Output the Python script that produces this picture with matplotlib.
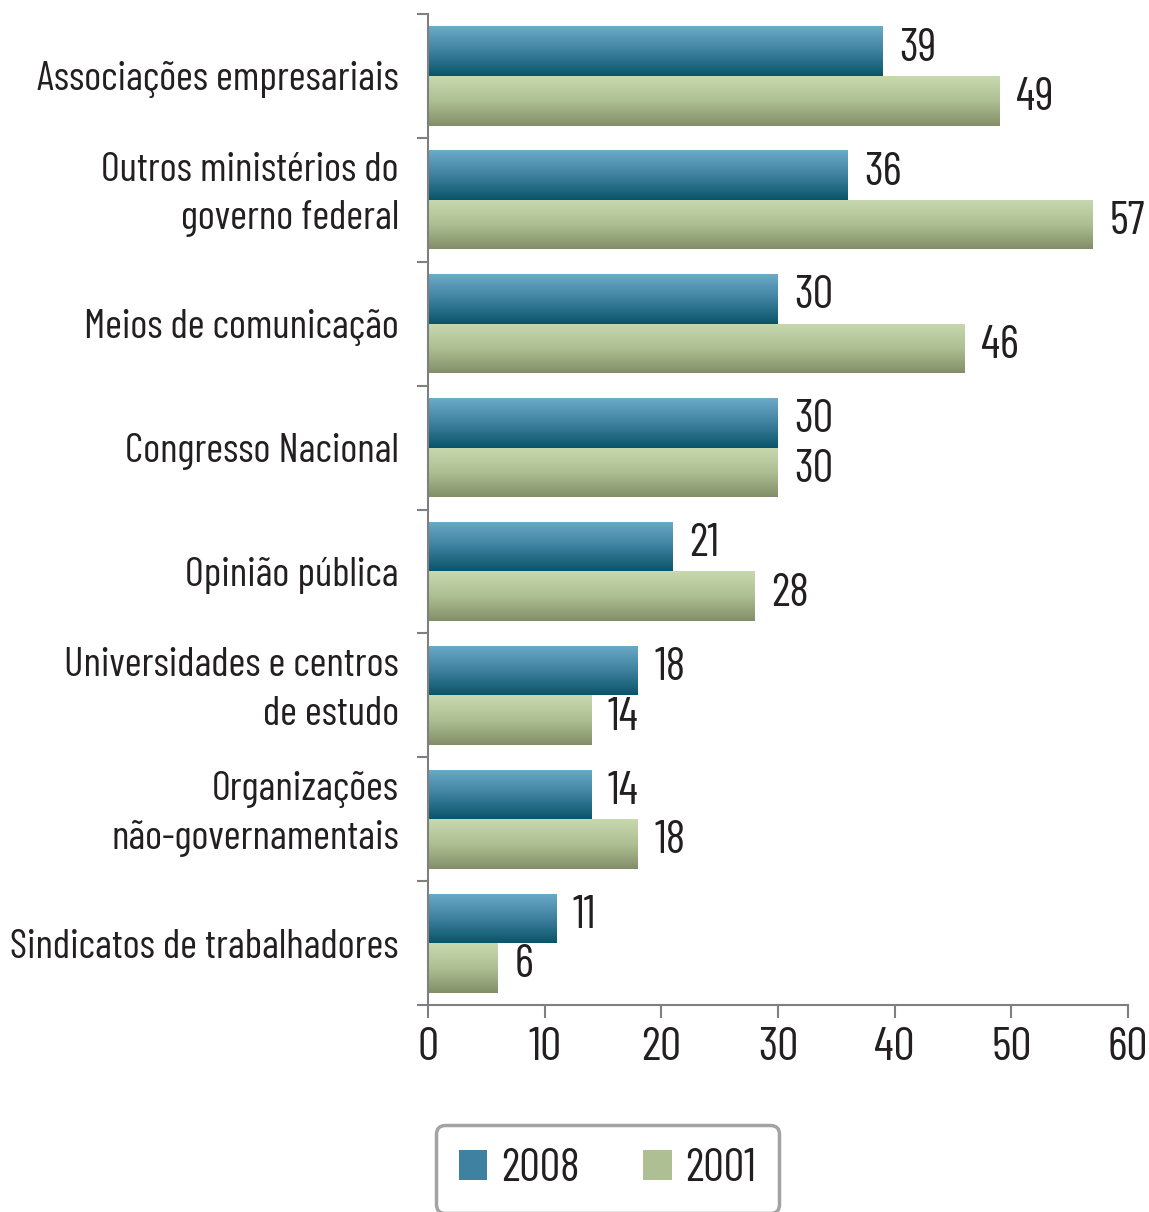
import numpy as np
import matplotlib
matplotlib.use("Agg")
import matplotlib.pyplot as plt
from matplotlib import font_manager
from matplotlib.colors import LinearSegmentedColormap
from matplotlib.transforms import ScaledTranslation

# Daten
categorias = ["Associações empresariais",
              "Outros ministérios do\ngoverno federal",
              "Meios de comunicação",
              "Congresso Nacional",
              "Opinião pública",
              "Universidades e centros\nde estudo",
              "Organizações\nnão-governamentais",
              "Sindicatos de trabalhadores"]
valores_2008 = [39, 36, 30, 30, 21, 18, 14, 11]
valores_2001 = [49, 57, 46, 30, 28, 14, 18, 6]
anos = ["2008", "2001"]
xticks = [0, 10, 20, 30, 40, 50, 60]

# Schmale Schrift suchen
namen = {f.name for f in font_manager.fontManager.ttflist}
fonte = "DejaVu Sans"
for kandidat in ["Barlow Condensed", "Archivo Narrow", "Barlow Semi Condensed", "Asap Condensed"]:
    if kandidat in namen:
        fonte = kandidat
        break
plt.rcParams["font.family"] = [fonte, "DejaVu Sans"]
cor_texto = "#231f20"
fs = 33

azul = LinearSegmentedColormap.from_list("azul", ["#6caac8", "#3f81a0", "#0a5469"])
verde = LinearSegmentedColormap.from_list("verde", ["#c8d9b0", "#aebf93", "#838e68"])

fig = plt.figure(figsize=(11.49, 12.12), dpi=100)
ax = fig.add_axes([0.3725, 0.1708, 0.6092, 0.8176])

n = len(categorias)
y = np.arange(n)
h = 0.4
b1 = ax.barh(y - h / 2, valores_2008, height=h, color="#3f81a0", label=anos[0])
b2 = ax.barh(y + h / 2, valores_2001, height=h, color="#aebf93", label=anos[1])

# Farbverlauf in jedem Balken
grad = np.linspace(0, 1, 100).reshape(-1, 1)
for barras, cmap in [(b1, azul), (b2, verde)]:
    for r in barras:
        x0, y0 = r.get_x(), r.get_y()
        w, hh = r.get_width(), r.get_height()
        im = ax.imshow(grad, cmap=cmap, aspect="auto", origin="upper",
                       extent=[x0, x0 + w, y0 + hh, y0], zorder=2)
        im.set_clip_path(r)

for barras, werte in [(b1, valores_2008), (b2, valores_2001)]:
    for r, v in zip(barras, werte):
        ax.text(v + 1.4, r.get_y() + r.get_height() * 0.45, str(v), va="center",
                ha="left", fontsize=fs, color=cor_texto)

ax.set_xlim(0, 60)
ax.set_ylim(n - 0.5, -0.5)
ax.set_xticks(xticks)
ax.set_xticklabels([str(t) for t in xticks], fontsize=fs + 1, color=cor_texto)
ax.set_yticks(y)
ax.set_yticklabels(categorias, fontsize=fs, color=cor_texto, linespacing=1.4)
ax.set_yticks(np.arange(n + 1) - 0.5, minor=True)
ax.tick_params(axis="y", which="major", length=0, pad=21)
ax.tick_params(axis="y", which="minor", length=8, width=1.5, color="#7f7f7f", direction="out")
ax.tick_params(axis="x", length=9, width=1.5, color="#7f7f7f", direction="out", pad=7)

for s in ["top", "right"]:
    ax.spines[s].set_visible(False)
for s in ["left", "bottom"]:
    ax.spines[s].set_color("#7f7f7f")
    ax.spines[s].set_linewidth(1.5)

# Schriftgröße der Kategorien an die Breite anpassen (längste ca. 388 px)
fig.canvas.draw()
r = fig.canvas.get_renderer()
breite = max(t.get_window_extent(r).width for t in ax.get_yticklabels())
for t in ax.get_yticklabels():
    t.set_fontsize(fs * 388.0 / breite)
    # zweizeilige Beschriftungen etwas nach oben schieben
    if "\n" in t.get_text():
        t.set_transform(t.get_transform() + ScaledTranslation(0, 0.15, fig.dpi_scale_trans))

leg = fig.legend(handles=[b1, b2], labels=anos, loc="center",
                 bbox_to_anchor=(0.5287, 0.0355), ncol=2, fontsize=fs,
                 frameon=True, fancybox=True, edgecolor="#8c8c8c",
                 handlelength=0.62, handleheight=0.62, columnspacing=1.4,
                 handletextpad=0.3, borderpad=0.5, borderaxespad=0)
leg.get_frame().set_linewidth(2.5)
for t in leg.get_texts():
    t.set_color(cor_texto)
for patch, cmap in zip(leg.get_patches(), [azul, verde]):
    patch.set_facecolor(cmap(0.5))

fig.savefig("out.png", dpi=100)
